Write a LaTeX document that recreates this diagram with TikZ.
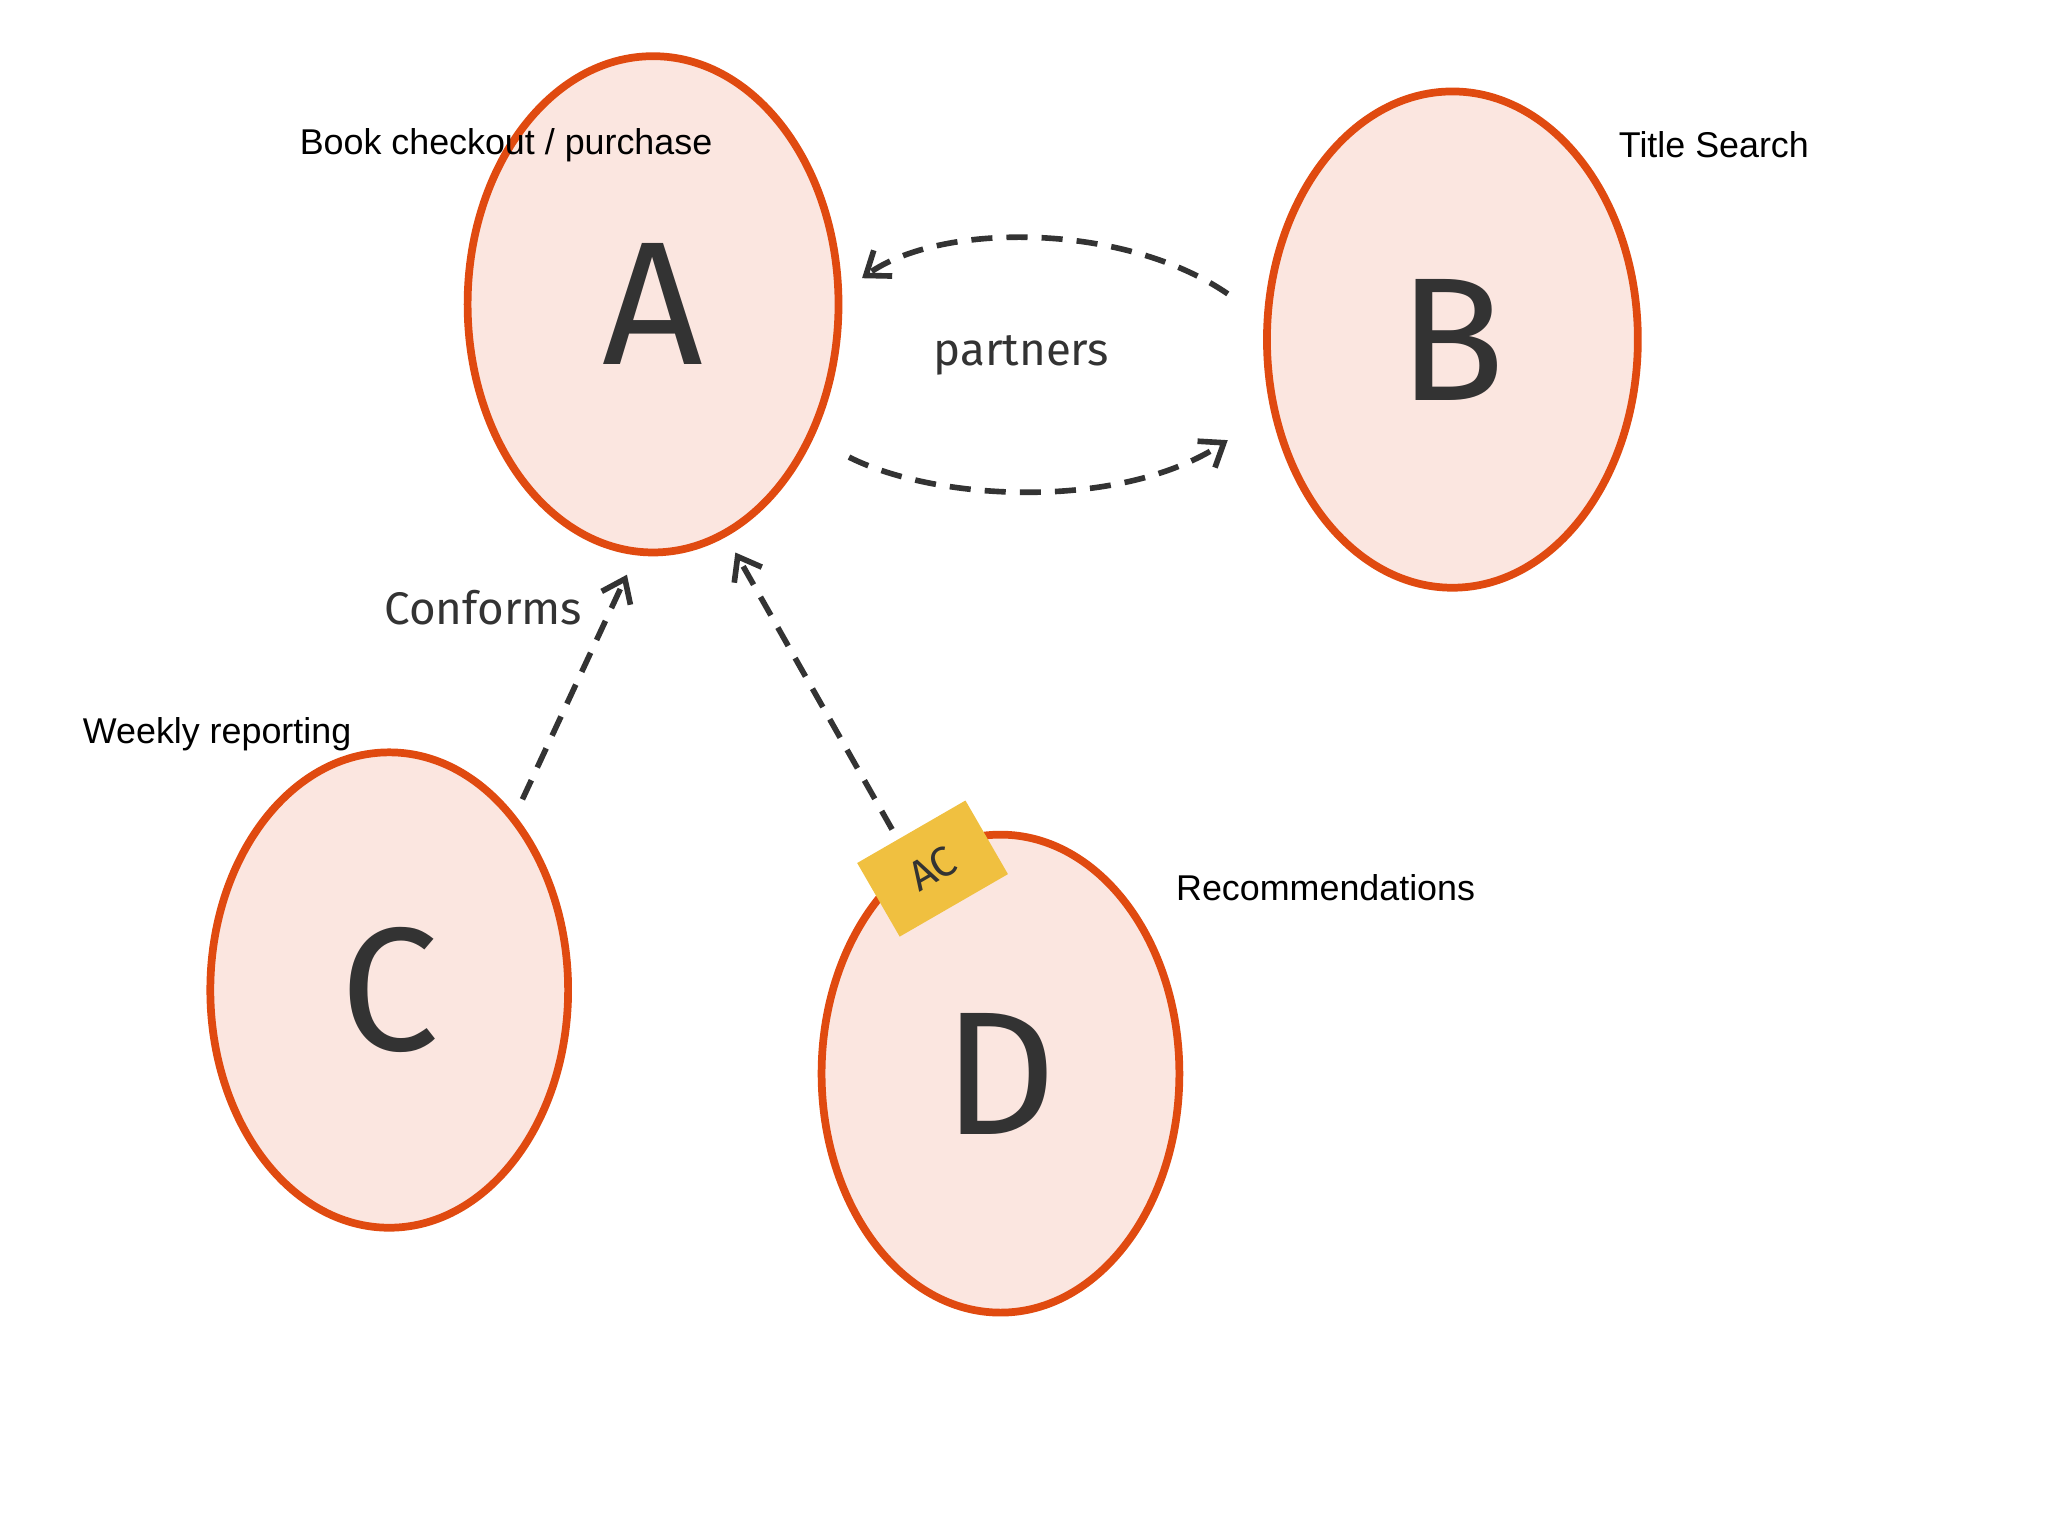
\documentclass[tikz,border=0pt]{standalone}
\usepackage{fontspec}
\setmainfont{Liberation Sans}
\newfontfamily\hand{Fira Sans}
\usetikzlibrary{arrows.meta,shapes.geometric}
\definecolor{ring}{HTML}{E04A10}
\definecolor{pinkfill}{HTML}{FBE6E0}
\definecolor{ink}{HTML}{333333}
\definecolor{sticky}{HTML}{F0C040}
\tikzset{
  ctx/.style={draw=ring,fill=pinkfill,line width=2.2pt,ellipse,inner sep=0pt},
  bigletter/.style={font=\hand\fontsize{50}{50}\selectfont,text=ink},
  lbl/.style={font=\fontsize{10.2}{12}\selectfont,anchor=west},
  rel/.style={draw=ink,line width=1.6pt,dash pattern=on 6pt off 4pt,-{Straight Barb[length=6pt,width=9pt]}},
  handlbl/.style={font=\hand\fontsize{13}{13}\selectfont,text=ink}
}
\begin{document}
\begin{tikzpicture}[x=0.013061cm,y=-0.013061cm]
\useasboundingbox (0,0) rectangle (1568,1176);
\fill[white] (0,0) rectangle (1568,1176);
\node[ctx,minimum width=3.709cm,minimum height=4.963cm] (A) at (500,233) {};
\node[ctx,minimum width=3.709cm,minimum height=4.963cm] (B) at (1112,260) {};
\node[ctx,minimum width=3.578cm,minimum height=4.754cm] (C) at (298,758) {};
\node[ctx,minimum width=3.578cm,minimum height=4.780cm] (D) at (766,822) {};
\node[bigletter] at (A) {A};
\node[bigletter] at (B) {B};
\node[bigletter] at (C) {C};
\node[bigletter] at (D) {D};
\node[lbl] (la) at (220,111) {Book checkout / purchase};
\node[lbl] (lb) at (1230,111) {Title Search};
\node[lbl] (lc) at (54,562) {Weekly reporting};
\node[lbl] (ld) at (891,680) {Recommendations};
\coordinate (b1) at (940,225); \coordinate (a1) at (660,213);
\coordinate (a2) at (650,350); \coordinate (b2) at (940,337);
\coordinate (c1) at (400,612); \coordinate (a3) at (480,440);
\coordinate (d1) at (683,635); \coordinate (a4) at (563,423);
\draw[rel] (b1) .. controls (860,170) and (720,170) .. (a1);
\draw[rel] (a2) .. controls (720,385) and (860,390) .. (b2);
\draw[rel] (c1) -- (a3);
\draw[rel] (d1) -- (a4);
\node[handlbl] (pl) at (782,272) {partners};
\node[handlbl] (cl) at (370,465) {Conforms};
\node[fill=sticky,rotate=30,minimum width=1.25cm,minimum height=0.85cm,font=\hand\fontsize{12}{12}\selectfont,text=ink] (ac) at (714,665) {AC};
\end{tikzpicture}
\end{document}
